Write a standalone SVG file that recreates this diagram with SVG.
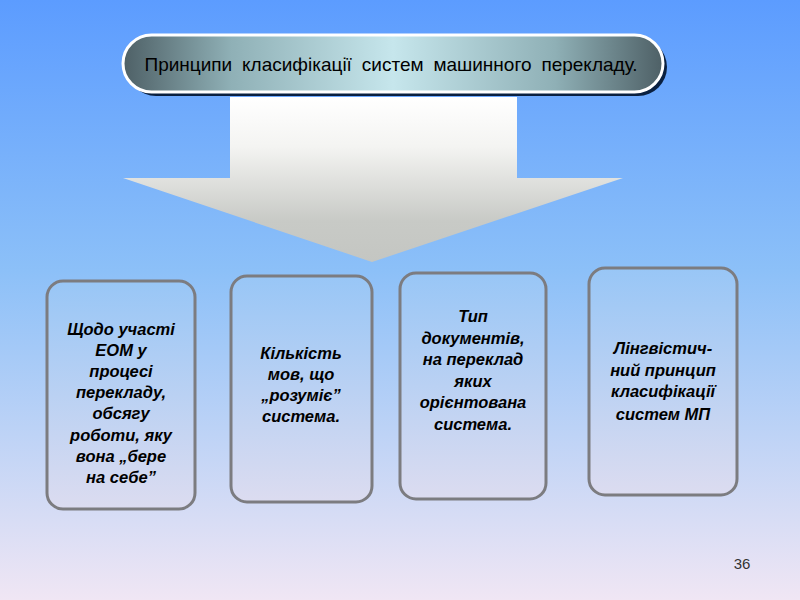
<svg xmlns="http://www.w3.org/2000/svg" width="800" height="600" viewBox="0 0 800 600">
<defs>
<linearGradient id="bg" x1="0" y1="0" x2="0" y2="1">
<stop offset="0" stop-color="#5c9cff"/>
<stop offset="0.45" stop-color="#8cc0f8"/>
<stop offset="1" stop-color="#f0e6f4"/>
</linearGradient>
<linearGradient id="title" x1="0" y1="0" x2="1" y2="0">
<stop offset="0" stop-color="#4e6066"/>
<stop offset="0.2" stop-color="#8fb0b6"/>
<stop offset="0.5" stop-color="#c6e6ec"/>
<stop offset="0.8" stop-color="#8fb0b6"/>
<stop offset="1" stop-color="#4e6066"/>
</linearGradient>
<linearGradient id="arrow" x1="0" y1="0" x2="0" y2="1">
<stop offset="0" stop-color="#ffffff"/>
<stop offset="0.3" stop-color="#f4f4f2"/>
<stop offset="0.75" stop-color="#c8cac6"/>
<stop offset="1" stop-color="#c4c6c2"/>
</linearGradient>
<linearGradient id="box" x1="0" y1="0" x2="0" y2="1">
<stop offset="0" stop-color="#98c6f6"/>
<stop offset="1" stop-color="#dcdcf0"/>
</linearGradient>
</defs>
<style>
.node rect{fill:url(#box);stroke:#7c7c80;stroke-width:3}
.lbl{font-family:"Liberation Sans",Arial,sans-serif;font-weight:bold;font-style:italic;font-size:16.5px;text-anchor:middle;fill:#000}
</style>
<rect width="800" height="600" fill="url(#bg)"/>
<g id="connectors">
<polygon points="230,97 517,97 517,178 623,178 372,262 123,178 230,178" fill="url(#arrow)"/>
</g>
<g id="title">
<rect x="127" y="38" width="540" height="58" rx="29" fill="#0a2040"/>
<rect x="123" y="35" width="540" height="57" rx="28.5" fill="url(#title)" stroke="#ffffff" stroke-width="3"/>
<text x="391" y="71" font-family="Liberation Sans,Arial,sans-serif" font-size="19" fill="#000" text-anchor="middle" word-spacing="4.6">Принципи класифікації систем машинного перекладу.</text>
</g>
<g id="node1" class="node">
<rect x="47" y="281" width="148" height="228" rx="16"/>
<text class="lbl"><tspan x="121" y="335">Щодо участі</tspan><tspan x="121" y="356">ЕОМ у</tspan><tspan x="121" y="377">процесі</tspan><tspan x="121" y="398">перекладу,</tspan><tspan x="121" y="419">обсягу</tspan><tspan x="121" y="441">роботи, яку</tspan><tspan x="121" y="462">вона „бере</tspan><tspan x="121" y="483">на себе”</tspan></text>
</g>
<g id="node2" class="node">
<rect x="231" y="276" width="141" height="226" rx="16"/>
<text class="lbl"><tspan x="301" y="359">Кількість</tspan><tspan x="301" y="380">мов, що</tspan><tspan x="301" y="401">„розуміє”</tspan><tspan x="301" y="422">система.</tspan></text>
</g>
<g id="node3" class="node">
<rect x="400" y="273" width="146" height="226" rx="16"/>
<text class="lbl"><tspan x="473" y="322">Тип</tspan><tspan x="473" y="344">документів,</tspan><tspan x="473" y="365">на переклад</tspan><tspan x="473" y="387">яких</tspan><tspan x="473" y="408">орієнтована</tspan><tspan x="473" y="430">система.</tspan></text>
</g>
<g id="node4" class="node">
<rect x="589" y="268" width="148" height="227" rx="16"/>
<text class="lbl"><tspan x="663" y="354">Лінгвістич-</tspan><tspan x="663" y="376">ний принцип</tspan><tspan x="663" y="397">класифікації</tspan><tspan x="663" y="420">систем МП</tspan></text>
</g>
<text x="742" y="569" font-family="Liberation Sans,Arial,sans-serif" font-size="15" text-anchor="middle" fill="#333">36</text>
</svg>
